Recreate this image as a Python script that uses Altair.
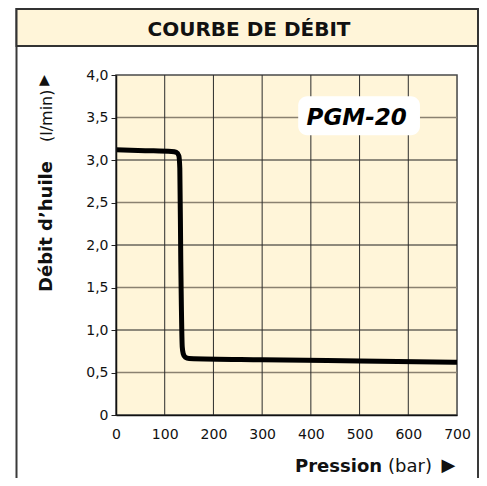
import altair as alt
import pandas as pd

# ---- data ----
pression = [0, 60, 114, 124, 129, 131, 133, 136, 138, 142, 150, 300, 500, 700]
debit = [3.12, 3.11, 3.10, 3.09, 3.05, 2.90, 1.80, 0.80, 0.72, 0.68, 0.665, 0.65, 0.635, 0.62]
x_ticks = [0, 100, 200, 300, 400, 500, 600, 700]
y_ticks = [0, 0.5, 1.0, 1.5, 2.0, 2.5, 3.0, 3.5, 4.0]
y_major = [1.0, 2.0, 3.0]
y_minor = [0.5, 1.5, 2.5, 3.5]
x_grid = [100, 200, 300, 400, 500, 600]
model_name = ["PGM-20"]
model_x = [494]
model_y = [3.41]
box_x = [374]
box_x2 = [624]
box_y = [3.29]
box_y2 = [3.75]
title_text = ["COURBE DE DÉBIT"]
y_title_bold = ["Débit d’huile"]
y_title_unit = ["(l/min)"]
x_title_bold = ["Pression"]
x_title_unit = ["(bar)"]

W, H = 341, 340
FONT = "DejaVu Sans"
FILL = "#fff5d9"

x_scale = alt.Scale(domain=[0, 700], nice=False)
y_scale = alt.Scale(domain=[0, 4], nice=False)

x_axis = alt.Axis(values=x_ticks, title=None, grid=False, tickSize=0, labelPadding=12,
                  labelFontSize=14, labelColor="#111", domainColor="#111", domainWidth=1.5,
                  labelFont=FONT, labelFlush=False, zindex=1)
y_axis = alt.Axis(values=y_ticks, title=None, grid=False, tickSize=5, tickColor="#222",
                  labelPadding=3, labelFontSize=14, labelColor="#111", domainColor="#111",
                  domainWidth=1.5, labelFont=FONT, labelFlush=False, zindex=1,
                  labelExpr="datum.value === 0 ? '0' : replace(format(datum.value, '.1f'), '.', ',')")

df = pd.DataFrame({"p": pression, "d": debit})
one = pd.DataFrame({"k": [0]})

# outer frame (open at the bottom) and title band, in pixel positions
frame_l = alt.Chart(one).mark_rule(color="#3a3a3a", strokeWidth=2).encode(
    x=alt.value(-99.5), y=alt.value(-67), y2=alt.value(410))
frame_r = alt.Chart(one).mark_rule(color="#3a3a3a", strokeWidth=2).encode(
    x=alt.value(362), y=alt.value(-67), y2=alt.value(410))
band = alt.Chart(one).mark_rect(fill=FILL, stroke="#333", strokeWidth=2).encode(
    x=alt.value(-99.5), x2=alt.value(362), y=alt.value(-66), y2=alt.value(-29))
title = alt.Chart(pd.DataFrame({"t": title_text})).mark_text(
    font=FONT, fontSize=20, fontWeight="bold", align="center", baseline="alphabetic",
    color="#111").encode(x=alt.value(133), y=alt.value(-39), text="t:N")

# plot background
plot_bg = alt.Chart(one).mark_rect(fill=FILL, stroke="#4a4a4a", strokeWidth=1.5).encode(
    x=alt.value(0), x2=alt.value(W), y=alt.value(0), y2=alt.value(H))

# grid lines
grid_minor = alt.Chart(pd.DataFrame({"v": y_minor})).mark_rule(color="#8a8170", strokeWidth=1.3).encode(
    y=alt.Y("v:Q", scale=y_scale, axis=y_axis))
grid_major = alt.Chart(pd.DataFrame({"v": y_major})).mark_rule(color="#1e1e1e", strokeWidth=1).encode(
    y=alt.Y("v:Q", scale=y_scale, axis=y_axis))
grid_x = alt.Chart(pd.DataFrame({"v": x_grid})).mark_rule(color="#2b2b2b", strokeWidth=1).encode(
    x=alt.X("v:Q", scale=x_scale, axis=x_axis))

line = alt.Chart(df).mark_line(color="black", strokeWidth=5, interpolate="monotone",
                               clip=True, strokeJoin="round").encode(
    x=alt.X("p:Q", scale=x_scale, axis=x_axis),
    y=alt.Y("d:Q", scale=y_scale, axis=y_axis))

box = alt.Chart(pd.DataFrame({"x": box_x, "x2": box_x2, "y": box_y, "y2": box_y2})).mark_rect(
    fill="white", cornerRadius=9).encode(
    x=alt.X("x:Q", scale=x_scale, axis=x_axis), x2="x2:Q",
    y=alt.Y("y:Q", scale=y_scale, axis=y_axis), y2="y2:Q")

model = alt.Chart(pd.DataFrame({"x": model_x, "y": model_y, "t": model_name})).mark_text(
    font=FONT, fontSize=23, fontWeight="bold", fontStyle="italic", align="center",
    baseline="alphabetic", color="black").encode(
    x=alt.X("x:Q", scale=x_scale, axis=x_axis),
    y=alt.Y("y:Q", scale=y_scale, axis=y_axis), text="t:N")

ytb = alt.Chart(pd.DataFrame({"t": y_title_bold})).mark_text(
    font=FONT, fontSize=18, fontWeight="bold", angle=270, align="left", baseline="middle",
    color="#111").encode(x=alt.value(-69), y=alt.value(217), text="t:N")
ytu = alt.Chart(pd.DataFrame({"t": y_title_unit})).mark_text(
    font=FONT, fontSize=16, angle=270, align="left", baseline="middle",
    color="#111").encode(x=alt.value(-69), y=alt.value(67), text="t:N")
yarrow = alt.Chart(one).mark_text(
    font=FONT, fontSize=14, text="▲", align="center", baseline="middle",
    color="#111").encode(x=alt.value(-71.5), y=alt.value(5))

xtb = alt.Chart(pd.DataFrame({"t": x_title_bold})).mark_text(
    font=FONT, fontSize=18, fontWeight="bold", align="left", baseline="alphabetic",
    color="#111").encode(x=alt.value(179), y=alt.value(396.7), text="t:N")
xtu = alt.Chart(pd.DataFrame({"t": x_title_unit})).mark_text(
    font=FONT, fontSize=18, align="left", baseline="alphabetic",
    color="#111").encode(x=alt.value(272), y=alt.value(396.7), text="t:N")
xarrow = alt.Chart(one).mark_text(
    font=FONT, fontSize=18, text="▶", align="center", baseline="middle",
    color="#111").encode(x=alt.value(332.3), y=alt.value(390.8))

chart = alt.layer(frame_l, frame_r, band, title, plot_bg, grid_minor, grid_major, grid_x,
                  line, box, model, ytb, ytu, yarrow, xtb, xtu, xarrow).properties(
    width=W, height=H,
    padding={"left": 108, "top": 67, "right": 22, "bottom": 63},
    autosize=alt.AutoSizeParams(type="none"),
    background="white",
).configure_view(stroke=None).configure(font=FONT)

chart.save("out.html", embed_options={"renderer": "svg", "actions": False})
